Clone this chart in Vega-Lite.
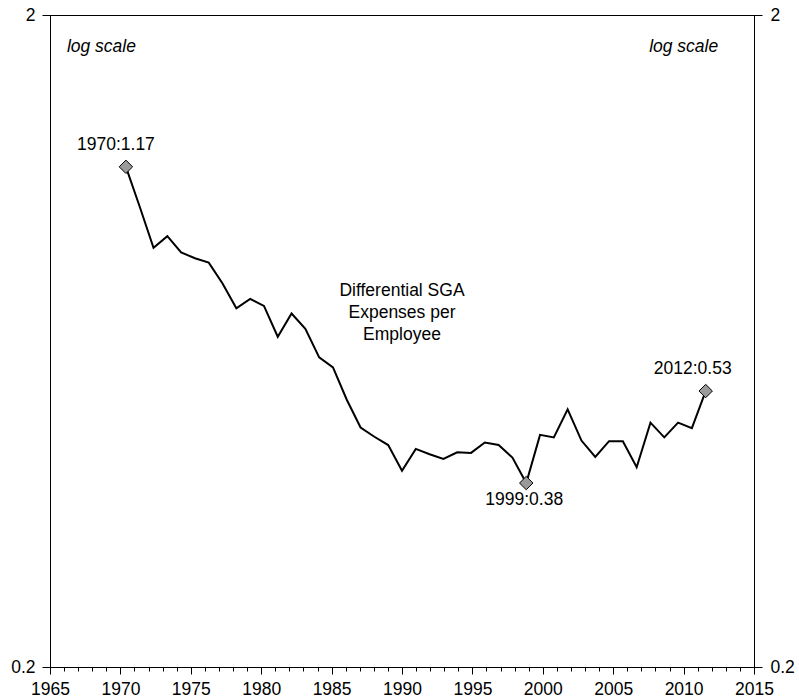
{
  "$schema": "https://vega.github.io/schema/vega-lite/v6.json",
  "width": 704,
  "height": 652,
  "autosize": {"type": "none"},
  "padding": {"left": 50, "top": 15, "right": 45, "bottom": 33},
  "background": "white",
  "config": {
    "view": {"stroke": "black", "strokeWidth": 1},
    "font": "Liberation Sans",
    "axis": {
      "domainColor": "black",
      "domainWidth": 1,
      "tickColor": "black",
      "tickWidth": 1,
      "labelColor": "black",
      "labelFont": "Liberation Sans",
      "labelFontSize": 17.5,
      "grid": false,
      "title": null
    }
  },
  "datasets": {
    "series": [
      {"year": 1970, "value": 1.17, "label": "1970:1.17"},
      {"year": 1971, "value": 1.016},
      {"year": 1972, "value": 0.879},
      {"year": 1973, "value": 0.916},
      {"year": 1974, "value": 0.865},
      {"year": 1975, "value": 0.847},
      {"year": 1976, "value": 0.834},
      {"year": 1977, "value": 0.775},
      {"year": 1978, "value": 0.71},
      {"year": 1979, "value": 0.734},
      {"year": 1980, "value": 0.716},
      {"year": 1981, "value": 0.642},
      {"year": 1982, "value": 0.697},
      {"year": 1983, "value": 0.66},
      {"year": 1984, "value": 0.597},
      {"year": 1985, "value": 0.576},
      {"year": 1986, "value": 0.514},
      {"year": 1987, "value": 0.466},
      {"year": 1988, "value": 0.451},
      {"year": 1989, "value": 0.438},
      {"year": 1990, "value": 0.4},
      {"year": 1991, "value": 0.432},
      {"year": 1992, "value": 0.424},
      {"year": 1993, "value": 0.417},
      {"year": 1994, "value": 0.427},
      {"year": 1995, "value": 0.426},
      {"year": 1996, "value": 0.442},
      {"year": 1997, "value": 0.438},
      {"year": 1998, "value": 0.419},
      {"year": 1999, "value": 0.383, "label": "1999:0.38"},
      {"year": 2000, "value": 0.454},
      {"year": 2001, "value": 0.45},
      {"year": 2002, "value": 0.497},
      {"year": 2003, "value": 0.445},
      {"year": 2004, "value": 0.42},
      {"year": 2005, "value": 0.444},
      {"year": 2006, "value": 0.444},
      {"year": 2007, "value": 0.405},
      {"year": 2008, "value": 0.474},
      {"year": 2009, "value": 0.45},
      {"year": 2010, "value": 0.474},
      {"year": 2011, "value": 0.465},
      {"year": 2012, "value": 0.53, "label": "2012:0.53"}
    ],
    "notes": [
      {"x": 1966.2, "y": 1.756, "text": "log scale", "kind": "left"},
      {"x": 2012.46, "y": 1.756, "text": "log scale", "kind": "right"},
      {"x": 1990, "y": 0.741, "text": "Differential SGA", "kind": "center"},
      {"x": 1990, "y": 0.686, "text": "Expenses per", "kind": "center"},
      {"x": 1990, "y": 0.635, "text": "Employee", "kind": "center"}
    ]
  },
  "resolve": {"scale": {"x": "independent"}, "axis": {"x": "independent", "y": "independent"}},
  "layer": [
    {
      "data": {"name": "series"},
      "mark": {"type": "point", "opacity": 0},
      "encoding": {
        "x": {
          "field": "year", "type": "quantitative",
          "scale": {"domain": [1965, 2015], "nice": false, "zero": false},
          "axis": {
            "orient": "bottom",
            "values": [1965,1966,1967,1968,1969,1970,1971,1972,1973,1974,1975,1976,1977,1978,1979,1980,1981,1982,1983,1984,1985,1986,1987,1988,1989,1990,1991,1992,1993,1994,1995,1996,1997,1998,1999,2000,2001,2002,2003,2004,2005,2006,2007,2008,2009,2010,2011,2012,2013,2014,2015],
            "format": "d",
            "labelExpr": "datum.value % 5 === 0 ? datum.label : ''",
            "tickSize": {"condition": {"test": "datum.value % 5 === 0", "value": 7}, "value": 4},
            "labelOverlap": false,
            "labelFlush": false,
            "labelPadding": 6
          }
        },
        "y": {
          "field": "value", "type": "quantitative",
          "scale": {"type": "log", "domain": [0.2, 2], "nice": false},
          "axis": {
            "orient": "left",
            "values": [0.2, 2],
            "labelExpr": "datum.value > 1 ? '2' : '0.2'",
            "tickSize": 8,
            "labelPadding": 7,
            "labelFlush": false
          }
        }
      }
    },
    {
      "data": {"name": "series"},
      "mark": {"type": "point", "opacity": 0},
      "encoding": {
        "x": {"field": "year", "type": "quantitative", "scale": {"domain": [1965, 2015], "nice": false, "zero": false}, "axis": null},
        "y": {
          "field": "value", "type": "quantitative",
          "scale": {"type": "log", "domain": [0.2, 2], "nice": false},
          "axis": {
            "orient": "right",
            "values": [0.2, 2],
            "labelExpr": "datum.value > 1 ? '2' : '0.2'",
            "tickSize": 8,
            "labelPadding": 8,
            "labelFlush": false
          }
        }
      }
    },
    {
      "data": {"name": "series"},
      "mark": {"type": "line", "color": "black", "strokeWidth": 2},
      "encoding": {
        "x": {"field": "year", "type": "quantitative", "scale": {"domain": [1964.5, 2015.5], "nice": false, "zero": false}, "axis": null},
        "y": {"field": "value", "type": "quantitative", "scale": {"type": "log", "domain": [0.2, 2], "nice": false}, "axis": null}
      }
    },
    {
      "data": {"name": "series"},
      "transform": [{"filter": "datum.label"}],
      "mark": {"type": "point", "shape": "diamond", "filled": true, "fill": "#9a9a9a", "stroke": "black", "strokeWidth": 1, "size": 180, "opacity": 1},
      "encoding": {
        "x": {"field": "year", "type": "quantitative", "scale": {"domain": [1964.5, 2015.5], "nice": false, "zero": false}, "axis": null},
        "y": {"field": "value", "type": "quantitative", "scale": {"type": "log", "domain": [0.2, 2], "nice": false}, "axis": null}
      }
    },
    {
      "data": {"name": "series"},
      "transform": [{"filter": "datum.year === 1970"}],
      "mark": {"type": "text", "fontSize": 17.5, "color": "black", "align": "center", "baseline": "alphabetic", "dx": -10, "dy": -17},
      "encoding": {
        "x": {"field": "year", "type": "quantitative", "scale": {"domain": [1964.5, 2015.5], "nice": false, "zero": false}, "axis": null},
        "y": {"field": "value", "type": "quantitative", "scale": {"type": "log", "domain": [0.2, 2], "nice": false}, "axis": null},
        "text": {"field": "label"}
      }
    },
    {
      "data": {"name": "series"},
      "transform": [{"filter": "datum.year === 1999"}],
      "mark": {"type": "text", "fontSize": 17.5, "color": "black", "align": "center", "baseline": "alphabetic", "dx": -2, "dy": 22},
      "encoding": {
        "x": {"field": "year", "type": "quantitative", "scale": {"domain": [1964.5, 2015.5], "nice": false, "zero": false}, "axis": null},
        "y": {"field": "value", "type": "quantitative", "scale": {"type": "log", "domain": [0.2, 2], "nice": false}, "axis": null},
        "text": {"field": "label"}
      }
    },
    {
      "data": {"name": "series"},
      "transform": [{"filter": "datum.year === 2012"}],
      "mark": {"type": "text", "fontSize": 17.5, "color": "black", "align": "center", "baseline": "alphabetic", "dx": -13, "dy": -17},
      "encoding": {
        "x": {"field": "year", "type": "quantitative", "scale": {"domain": [1964.5, 2015.5], "nice": false, "zero": false}, "axis": null},
        "y": {"field": "value", "type": "quantitative", "scale": {"type": "log", "domain": [0.2, 2], "nice": false}, "axis": null},
        "text": {"field": "label"}
      }
    },
    {
      "data": {"name": "notes"},
      "transform": [{"filter": "datum.kind === 'left'"}],
      "mark": {"type": "text", "fontSize": 17.5, "fontStyle": "italic", "color": "black", "align": "left", "baseline": "alphabetic"},
      "encoding": {
        "x": {"field": "x", "type": "quantitative", "scale": {"domain": [1965, 2015], "nice": false, "zero": false}, "axis": null},
        "y": {"field": "y", "type": "quantitative", "scale": {"type": "log", "domain": [0.2, 2], "nice": false}, "axis": null},
        "text": {"field": "text"}
      }
    },
    {
      "data": {"name": "notes"},
      "transform": [{"filter": "datum.kind === 'right'"}],
      "mark": {"type": "text", "fontSize": 17.5, "fontStyle": "italic", "color": "black", "align": "right", "baseline": "alphabetic"},
      "encoding": {
        "x": {"field": "x", "type": "quantitative", "scale": {"domain": [1965, 2015], "nice": false, "zero": false}, "axis": null},
        "y": {"field": "y", "type": "quantitative", "scale": {"type": "log", "domain": [0.2, 2], "nice": false}, "axis": null},
        "text": {"field": "text"}
      }
    },
    {
      "data": {"name": "notes"},
      "transform": [{"filter": "datum.kind === 'center'"}],
      "mark": {"type": "text", "fontSize": 17.5, "color": "black", "align": "center", "baseline": "alphabetic"},
      "encoding": {
        "x": {"field": "x", "type": "quantitative", "scale": {"domain": [1965, 2015], "nice": false, "zero": false}, "axis": null},
        "y": {"field": "y", "type": "quantitative", "scale": {"type": "log", "domain": [0.2, 2], "nice": false}, "axis": null},
        "text": {"field": "text"}
      }
    }
  ]
}
